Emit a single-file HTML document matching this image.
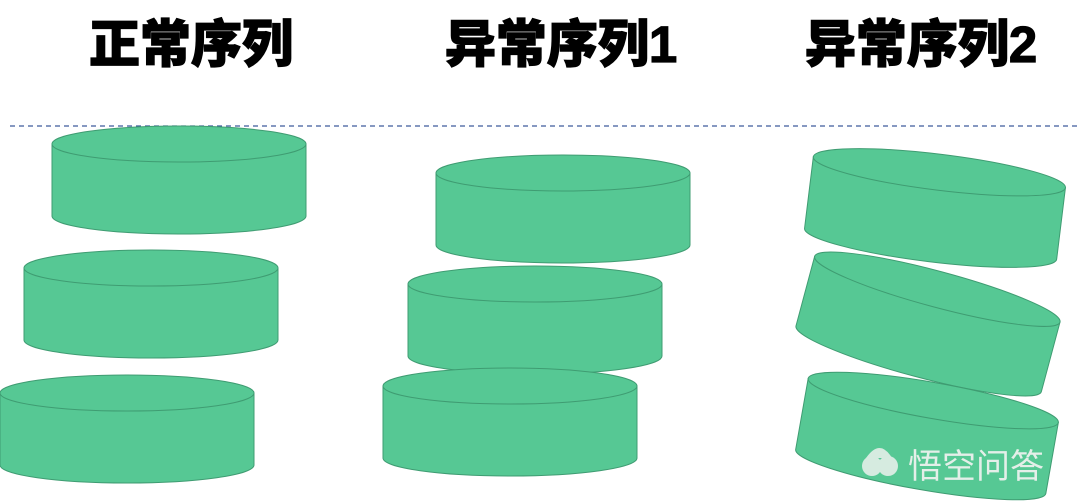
<!DOCTYPE html>
<html><head><meta charset="utf-8"><style>
html,body{margin:0;padding:0;background:#fff;width:1080px;height:503px;overflow:hidden}
svg{display:block}
text{font-family:"Liberation Sans","Noto Sans CJK SC",sans-serif;font-weight:900}
</style></head><body>
<svg width="1080" height="503" viewBox="0 0 1080 503">
<defs>
<g id="cyl">
<path d="M0,18 L0,90 A127,18 0 0 0 254,90 L254,18 Z" fill="#56c894" stroke="#3f9c72" stroke-width="1"/>
<ellipse cx="127" cy="18" rx="127" ry="18" fill="#56c894" stroke="#3f9c72" stroke-width="1"/>
</g>
</defs>
<g stroke="#000" stroke-width="1.2">
<text x="191" y="62" font-size="51" text-anchor="middle" fill="#000">正常序列</text>
<text x="561" y="62" font-size="51" text-anchor="middle" fill="#000">异常序列1</text>
<text x="921" y="62" font-size="51" text-anchor="middle" fill="#000">异常序列2</text>
</g>
<line x1="10" y1="126" x2="1080" y2="126" stroke="#3e5a9c" stroke-width="1.3" stroke-dasharray="5,4"/>
<use href="#cyl" x="52" y="126"/>
<use href="#cyl" x="24" y="250"/>
<use href="#cyl" x="0" y="375"/>
<use href="#cyl" x="436" y="155"/>
<use href="#cyl" x="408" y="266"/>
<use href="#cyl" x="383" y="368"/>
<g transform="translate(935,208) rotate(7) translate(-127,-54)"><use href="#cyl"/></g>
<g transform="translate(928,324) rotate(15) translate(-127,-54)"><use href="#cyl"/></g>
<g transform="translate(927,436) rotate(10) translate(-127,-54)"><use href="#cyl"/></g>
<g fill="#e4efe9" opacity="0.9">
<circle cx="872" cy="466" r="10"/><circle cx="888" cy="466" r="10"/>
<path d="M866,458 Q880,438 892,458 Z"/>
</g>
<text x="908" y="478" font-size="34" fill="#e4efe9" style="font-weight:normal">悟空问答</text>
</svg>
</body></html>
